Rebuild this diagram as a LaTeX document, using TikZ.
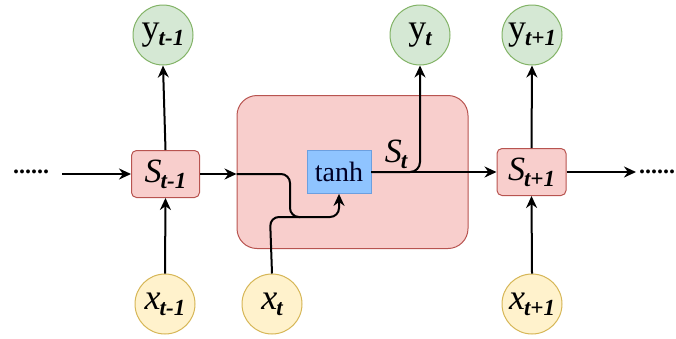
\documentclass[tikz,border=0pt]{standalone}
\usepackage{fontspec}
\setmainfont{Liberation Serif}
\newfontfamily\tms{Liberation Serif}
\usetikzlibrary{arrows.meta}
\definecolor{gfill}{HTML}{D5E8D4}
\definecolor{gdraw}{HTML}{82B366}
\definecolor{yfill}{HTML}{FFF2CC}
\definecolor{ydraw}{HTML}{D6B656}
\definecolor{rfill}{HTML}{F8CECC}
\definecolor{rdraw}{HTML}{B85450}
\definecolor{bfill}{HTML}{8FC4FF}
\definecolor{bdraw}{HTML}{6C9FDF}
\newcommand{\lab}[2]{#1\kern-1pt\raisebox{-6pt}{\fontsize{23}{23}\selectfont\bfseries\itshape #2}}
\tikzset{
  circ/.style={circle, minimum size=60pt, inner sep=0pt, line width=1pt, font=\tms\fontsize{36}{36}\selectfont},
  ynode/.style={circ, draw=gdraw, fill=gfill},
  xnode/.style={circ, draw=ydraw, fill=yfill, font=\tms\fontsize{36}{36}\selectfont\itshape},
  snode/.style={rectangle, rounded corners=5pt, draw=rdraw, fill=rfill, minimum width=68pt, minimum height=47pt, inner sep=0pt, line width=1pt, font=\tms\fontsize{34}{34}\selectfont\itshape},
  cellbox/.style={rectangle, rounded corners=20pt, draw=rdraw, fill=rfill, minimum width=231pt, minimum height=153pt, line width=1pt},
  tanhbox/.style={rectangle, draw=bdraw, fill=bfill, minimum width=64pt, minimum height=43pt, inner sep=0pt, line width=0.8pt, font=\tms\fontsize{28}{28}\selectfont, text=black!85!blue},
  arr/.style={-{Stealth[length=12pt,width=11pt]}, line width=2pt},
  ln/.style={line width=2pt},
  dots/.style={font=\tms\fontsize{24}{24}\selectfont\bfseries, inner sep=0pt},
}
\begin{document}
\begin{tikzpicture}[x=1pt,y=-1pt]
\useasboundingbox (0,0) rectangle (676,338);
% big cell
\node[cellbox] (cell) at (352.5,172) {};
\node[tanhbox] (tanh) at (339,172) {tanh};
\node[font=\tms\fontsize{34}{34}\selectfont\itshape, inner sep=0pt] (Stl) at (396,154) {\lab{S}{t}};
% nodes
\node[snode] (Sm) at (165.5,174) {\lab{S}{t-1}};
\node[snode, minimum width=69pt] (Sp) at (531.5,172) {\lab{S}{t+1}};
\node[ynode] (ym) at (163,35) {\lab{y}{t-1}};
\node[ynode] (yt) at (420,35) {\lab{y}{t}};
\node[ynode] (yp) at (532,35) {\lab{y}{t+1}};
\node[xnode] (xm) at (165,304) {\lab{x}{t-1}};
\node[xnode] (xt) at (272,304) {\lab{x}{t}};
\node[xnode] (xp) at (532,304) {\lab{x}{t+1}};
\node[dots] (dl) at (31,172) {......};
\node[dots] (dr) at (657,172) {......};
\coordinate (al) at (62,174);
\coordinate (ar) at (636,172);
% connectors
\draw[arr] (al) -- (Sm.west);
\draw[arr] (Sm.north) -- (ym.south);
\draw[arr] (xm.north) -- (Sm.south);
\coordinate (cin) at (Sm.east -| cell.west);
\draw[arr] (Sm.east) -- (cin);
\draw[arr, rounded corners=9pt] (cin) -- (290,174) -- (290,217) -- (339,217) -- (tanh.south);
\draw[ln, rounded corners=9pt] (xt.north) -- (270,217) -- (300,217);
\draw[arr] (tanh.east) -- (Sp.west);
\draw[arr, rounded corners=10pt] (tanh.east) -| (yt.south);
\draw[arr] (Sp.north) -- (yp.south);
\draw[arr] (xp.north) -- (Sp.south);
\draw[arr] (Sp.east) -- (ar);
\end{tikzpicture}
\end{document}
